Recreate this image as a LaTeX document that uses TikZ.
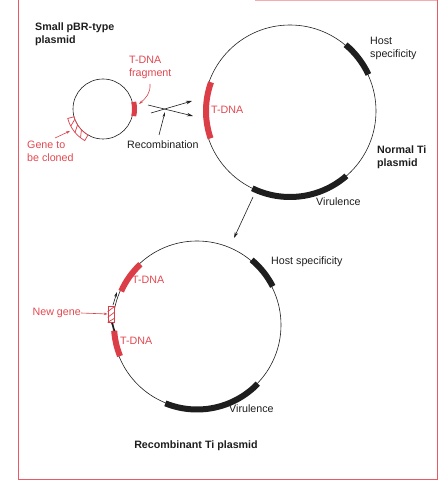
\documentclass[tikz,border=0pt]{standalone}
\usepackage{fontspec}
\setmainfont{Liberation Sans}
\usetikzlibrary{arrows.meta}
\definecolor{tred}{RGB}{220,62,72}
\definecolor{tredtext}{RGB}{226,72,80}
\definecolor{ink}{RGB}{30,30,30}
\definecolor{frame}{RGB}{232,90,100}
\tikzset{
  plasmid/.style={draw=ink, circle, line width=0.6pt, inner sep=0pt},
  redarc/.style={draw=tred, line width=6pt},
  blackarc/.style={draw=ink, line width=6pt},
  lbl/.style={font=\fontsize{10.7}{12.5}\selectfont, text=ink, inner sep=0pt, align=left},
  redlbl/.style={font=\fontsize{10.7}{13}\selectfont, text=tredtext, inner sep=0pt, align=left},
  boldlbl/.style={font=\fontsize{10.7}{13}\selectfont\bfseries, text=ink, inner sep=0pt, align=left},
  blackarrow/.style={draw=ink, line width=0.6pt, -{Stealth[length=6pt,width=3.5pt]}},
  redarrow/.style={draw=tred, line width=0.6pt, -{Stealth[length=4pt,width=2.5pt]}},
  hatchline/.style={draw=tred, line width=0.7pt}
}
\begin{document}
\begin{tikzpicture}[x=1pt,y=1pt]
\useasboundingbox (0,0) rectangle (440,491);
% frame
\draw[frame, line width=1pt] (18,491) -- (18,11) -- (437,11) -- (437,491);
\draw[frame!50, line width=1pt] (255,490) -- (437,490);

% ---- small plasmid
\node[plasmid, minimum size=60pt] (small) at (103,382) {};
\draw[redarc, line width=5pt] ([shift={(-13:31.5)}]small.center) arc[start angle=-13, end angle=13, radius=31.5];
\draw[hatchline, fill=white] ([shift={(195:30)}]small.center) arc[start angle=195, end angle=240, radius=30]
  -- ([shift={(240:36.5)}]small.center) arc[start angle=240, end angle=195, radius=36.5] -- cycle;
\foreach \a in {200,212,224} {
  \draw[hatchline] ([shift={(\a:30)}]small.center) -- ([shift={(\a+8:36.5)}]small.center);
}
\node[boldlbl, anchor=north west] (smalllbl) at (35,468) {Small pBR-type\\plasmid};
\node[redlbl, anchor=north west] (fraglbl) at (129,435) {T-DNA\\fragment};
\node[redlbl, anchor=north west, font=\fontsize{10.7}{12.5}\selectfont] (genelbl) at (27,350) {Gene to\\be cloned};
\coordinate (fragtip) at (139,387);
\coordinate (fragstart) at (150,407);
\draw[redarrow] (fragstart) to[out=-85, in=40] (fragtip);
\coordinate (genefrom) at (55,353);
\coordinate (geneto) at (70,360);
\draw[redarrow] (genefrom) -- (geneto);

% ---- recombination cross
\coordinate (xa1) at (148,386);
\coordinate (xa2) at (193,375);
\coordinate (xb1) at (151,378);
\coordinate (xb2) at (192,390);
\draw[blackarrow] (xa1) -- (xa2);
\draw[blackarrow] (xb1) -- (xb2);
\node[lbl, anchor=west] (reclbl) at (127,346) {Recombination};
\coordinate (recfrom) at (159,356);
\coordinate (recto) at (165,379);
\draw[blackarrow, -{Stealth[length=5pt,width=2.5pt]}] (recfrom) -- (recto);

% ---- normal Ti plasmid
\node[plasmid, minimum size=172pt] (ti) at (290,380) {};
\draw[redarc] ([shift={(160:84)}]ti.center) arc[start angle=160, end angle=199, radius=84];
\draw[blackarc] ([shift={(25:86.5)}]ti.center) arc[start angle=25, end angle=50, radius=86.5];
\draw[blackarc] ([shift={(-116:86)}]ti.center) arc[start angle=-116, end angle=-49, radius=86];
\node[redlbl, anchor=west] (titdna) at (211,381) {T-DNA};
\node[lbl, anchor=north west] (tihost) at (370,454) {Host\\specificity};
\node[boldlbl, anchor=north west] (tilbl) at (377,345) {Normal Ti\\plasmid};
\node[lbl, anchor=west] (tivir) at (316,289) {Virulence};
\coordinate (downfrom) at (253,294);
\coordinate (downto) at (234,253);
\draw[blackarrow] (downfrom) -- (downto);

% ---- recombinant Ti plasmid
\node[plasmid, minimum size=168pt] (rec) at (197,166) {};
\draw[blackarc] ([shift={(27:85)}]rec.center) arc[start angle=27, end angle=50, radius=85];
\draw[blackarc] ([shift={(-112:84.5)}]rec.center) arc[start angle=-112, end angle=-44, radius=84.5];
\draw[redarc] ([shift={(133:83)}]rec.center) arc[start angle=133, end angle=156, radius=83];
\draw[redarc] ([shift={(184:83)}]rec.center) arc[start angle=184, end angle=202, radius=83];
\node[draw=tred, line width=0.7pt, fill=white, minimum width=6pt, minimum height=16pt, inner sep=0pt] (newgene) at (111,177) {};
\draw[hatchline] ([yshift=-6pt]newgene.north west) -- ([yshift=-1pt]newgene.north east);
\draw[hatchline] ([yshift=5pt]newgene.south west) -- ([yshift=10pt]newgene.south east);
\draw[hatchline] (newgene.south west) -- ([yshift=4pt]newgene.south east);
\coordinate (upa) at (113,186);
\coordinate (upb) at (117,199);
\draw[blackarrow, -{Stealth[length=5pt,width=3pt]}] (upa) -- (upb);
\coordinate (lowa) at (112,168);
\coordinate (lowb) at (114.5,160);
\draw[ink, line width=1.6pt] (lowa) -- (lowb);
\node[lbl, anchor=west] (rechost) at (271,229) {Host specificity};
\node[redlbl, anchor=west] (rectdna1) at (132,211) {T-DNA};
\node[redlbl, anchor=west] (rectdna2) at (120,150) {T-DNA};
\node[redlbl, anchor=east] (newlbl) at (81,178) {New gene};
\draw[redarrow] (newlbl.east) -- (newgene.west);
\node[lbl, anchor=west] (recvir) at (229,82) {Virulence};
\node[boldlbl, anchor=center] (reclblb) at (196,45) {Recombinant Ti plasmid};
\end{tikzpicture}
\end{document}
